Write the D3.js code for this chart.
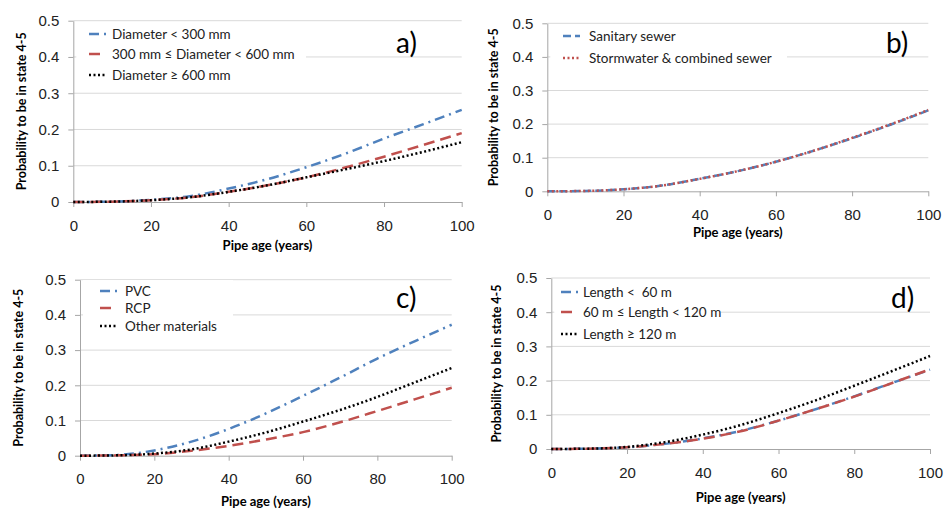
<!DOCTYPE html>
<html>
<head>
<meta charset="utf-8">
<script src="https://cdn.jsdelivr.net/npm/d3@7"></script>
<style>
  body { margin: 0; background: #fff; }
  svg { font-family: Lato, "Open Sans", sans-serif; }
  .grid line { stroke: #d9d9d9; stroke-width: 1; }
  .axis path, .axis line { stroke: #a6a6a6; }
  .axis text { font-size: 15px; fill: #222; }
  .legend-text { white-space: pre; }
</style>
</head>
<body>
<div id="container"></div>
<script>
// Pipe age (years) sampled every 10 years
var ages = [0, 10, 20, 30, 40, 50, 60, 70, 80, 90, 100];

// a) diameter
var diamSmall  = [0, 0.001, 0.006, 0.016, 0.037, 0.063, 0.096, 0.133, 0.175, 0.214, 0.254];
var diamMid    = [0, 0.001, 0.005, 0.013, 0.028, 0.046, 0.068, 0.095, 0.125, 0.157, 0.19];
var diamLarge  = [0, 0.001, 0.005, 0.013, 0.028, 0.046, 0.068, 0.09, 0.113, 0.138, 0.165];
// b) sewer type
var sanitary   = [0, 0.001, 0.006, 0.017, 0.037, 0.06, 0.088, 0.121, 0.158, 0.198, 0.241];
var stormwater = [0, 0.001, 0.006, 0.017, 0.037, 0.06, 0.088, 0.121, 0.159, 0.199, 0.242];
// c) material
var pvc        = [0, 0.002, 0.015, 0.04, 0.076, 0.12, 0.17, 0.222, 0.276, 0.325, 0.372];
var rcp        = [0, 0.001, 0.004, 0.014, 0.028, 0.046, 0.067, 0.095, 0.127, 0.16, 0.193];
var otherMat   = [0, 0.001, 0.006, 0.018, 0.04, 0.066, 0.097, 0.13, 0.167, 0.208, 0.249];
// d) length
var lenShort   = [0, 0.001, 0.005, 0.015, 0.031, 0.053, 0.083, 0.117, 0.154, 0.193, 0.232];
var lenMid     = [0, 0.001, 0.005, 0.015, 0.03, 0.052, 0.083, 0.117, 0.153, 0.193, 0.233];
var lenLong    = [0, 0.001, 0.006, 0.02, 0.042, 0.07, 0.105, 0.143, 0.185, 0.228, 0.272];

var yTicks = [0, 0.1, 0.2, 0.3, 0.4, 0.5];
var xTicks = [0, 20, 40, 60, 80, 100];

var blue = "#4f81bd", red = "#c0504d", black = "#000";
var dashDot = "10,5,2,5", longDash = "11,6", dots = "2,2.5", shortDash = "8,4";

var svg = d3.select("#container").append("svg")
    .attr("width", 948)
    .attr("height", 518);

var panels = [
  { tag: "a)", left: 73.3, right: 461.7, top: 20.7, bottom: 202,
    legendRight: 306, legendY: [34, 54, 75], sampleX: 89, textX: 112,
    tagX: 396, tagY: 53, yTitleX: 22, xTitleY: 250,
    series: [
      { name: "Diameter < 300 mm", values: diamSmall, color: blue, dash: dashDot },
      { name: "300 mm \u2264 Diameter < 600 mm", values: diamMid, color: red, dash: longDash },
      { name: "Diameter \u2265 600 mm", values: diamLarge, color: black, dash: dots }
    ] },
  { tag: "b)", left: 547.3, right: 928.3, top: 23.3, bottom: 191.3,
    legendRight: 787, legendY: [36, 58], sampleX: 563, textX: 589,
    tagX: 886, tagY: 53, yTitleX: 494, xTitleY: 237,
    series: [
      { name: "Sanitary sewer", values: sanitary, color: blue, dash: shortDash },
      { name: "Stormwater & combined sewer", values: stormwater, color: red, dash: dots }
    ] },
  { tag: "c)", left: 80, right: 451.7, top: 279.7, bottom: 455.7,
    legendRight: 233, legendY: [291, 308, 326], sampleX: 100, textX: 125,
    tagX: 396, tagY: 308, yTitleX: 19, xTitleY: 506,
    series: [
      { name: "PVC", values: pvc, color: blue, dash: dashDot },
      { name: "RCP", values: rcp, color: red, dash: longDash },
      { name: "Other materials", values: otherMat, color: black, dash: dots }
    ] },
  { tag: "d)", left: 551.3, right: 930, top: 278, bottom: 449,
    legendRight: 721, legendY: [292, 312, 334], sampleX: 561, textX: 583,
    tagX: 891, tagY: 308, yTitleX: 497, xTitleY: 502,
    series: [
      { name: "Length <  60 m", values: lenShort, color: blue, dash: dashDot },
      { name: "60 m \u2264 Length < 120 m", values: lenMid, color: red, dash: longDash },
      { name: "Length \u2265 120 m", values: lenLong, color: black, dash: dots }
    ] }
];

panels.forEach(function(p) {
  var x = d3.scaleLinear().domain([0, 100]).range([p.left, p.right]);
  var y = d3.scaleLinear().domain([0, 0.5]).range([p.bottom, p.top]);
  var g = svg.append("g");

  // gridlines
  g.append("g").attr("class", "grid")
    .selectAll("line")
    .data(yTicks.slice(1))
    .enter().append("line")
      .attr("x1", p.left).attr("x2", p.right)
      .attr("y1", function(d) { return y(d); })
      .attr("y2", function(d) { return y(d); });

  var fmt = function(d) { return d === 0 ? "0" : d3.format(".1f")(d); };

  g.append("g").attr("class", "axis")
    .attr("transform", "translate(" + p.left + ",0)")
    .call(d3.axisLeft(y).tickValues(yTicks).tickFormat(fmt).tickSize(5).tickPadding(9).tickSizeOuter(0));

  g.append("g").attr("class", "axis")
    .attr("transform", "translate(0," + p.bottom + ")")
    .call(d3.axisBottom(x).tickValues(xTicks).tickSize(5).tickPadding(13).tickSizeOuter(0));

  // legend box (white, hides gridlines)
  g.append("rect")
    .attr("x", p.left + 3)
    .attr("y", p.legendY[0] - 11)
    .attr("width", p.legendRight - p.left - 3)
    .attr("height", p.legendY[p.legendY.length - 1] - p.legendY[0] + 22)
    .style("fill", "#fff");

  var line = d3.line()
    .x(function(d, i) { return x(ages[i]); })
    .y(function(d) { return y(d); })
    .curve(d3.curveMonotoneX);

  p.series.forEach(function(s, i) {
    g.append("path")
      .attr("d", line(s.values))
      .style("fill", "none")
      .style("stroke", s.color)
      .style("stroke-width", 2.5)
      .style("stroke-dasharray", s.dash);

    g.append("line")
      .attr("x1", p.sampleX).attr("x2", p.sampleX + 17)
      .attr("y1", p.legendY[i]).attr("y2", p.legendY[i])
      .style("stroke", s.color)
      .style("stroke-width", 2.5)
      .style("stroke-dasharray", s.dash);

    g.append("text")
      .attr("class", "legend-text")
      .attr("x", p.textX)
      .attr("y", p.legendY[i])
      .attr("dy", "0.35em")
      .style("font-size", "13.5px")
      .style("fill", "#222")
      .text(s.name);
  });

  g.append("text")
    .attr("x", p.tagX)
    .attr("y", p.tagY)
    .style("font-size", "28px")
    .text(p.tag);

  g.append("text")
    .attr("x", (p.left + p.right) / 2)
    .attr("y", p.xTitleY)
    .style("text-anchor", "middle")
    .style("font-size", "13px")
    .style("font-weight", "bold")
    .text("Pipe age (years)");

  g.append("text")
    .attr("transform", "translate(" + p.yTitleX + "," + ((p.top + p.bottom) / 2) + ") rotate(-90)")
    .attr("dy", "0.35em")
    .style("text-anchor", "middle")
    .style("font-size", "12.5px")
    .style("font-weight", "bold")
    .text("Probability to be in state 4-5");
});
</script>
</body>
</html>
